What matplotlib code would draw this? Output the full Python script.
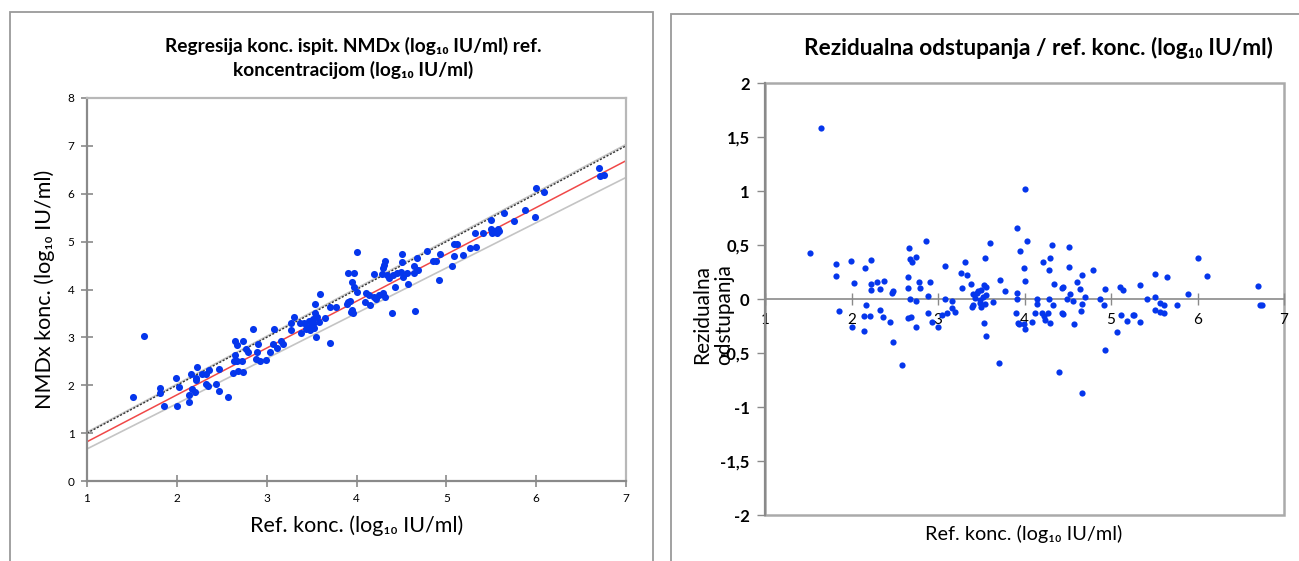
import matplotlib.pyplot as plt
from matplotlib.patches import Rectangle

plt.rcParams['font.family'] = ['Lato', 'DejaVu Sans']

# left chart: reference conc. vs NMDx conc. (log10 IU/ml)
ref_x = [1.51, 1.64, 1.81, 1.81, 1.86, 1.99, 2.02, 2.00, 2.16, 2.22, 2.21, 2.21,
         2.17, 2.20, 2.14, 2.14, 2.28, 2.33, 2.36, 2.33, 2.35, 2.44, 2.47, 2.47,
         2.57, 2.65, 2.74, 2.67, 2.65, 2.67, 2.64, 2.73, 2.63, 2.68, 2.74, 2.77,
         2.79, 2.85, 2.90, 2.89, 2.88, 2.93, 2.99, 3.04, 3.07, 3.11, 3.16, 3.18,
         3.08, 3.27, 3.30, 3.37, 3.27, 3.38, 3.45, 3.52, 3.48, 3.54, 3.54, 3.59,
         3.55, 3.70, 3.65, 3.70, 3.77, 3.56, 3.58, 3.52, 3.42, 3.47, 3.50, 3.44,
         3.53, 3.89, 3.93, 3.96, 3.95, 3.95, 4.00, 3.90, 3.97, 3.97, 4.01, 3.91,
         3.94, 4.11, 4.14, 4.19, 4.22, 4.25, 4.29, 4.32, 4.09, 4.15, 4.20, 4.28,
         4.30, 4.32, 4.31, 4.34, 4.36, 4.41, 4.45, 4.50, 4.56, 4.52, 4.51, 4.51,
         4.43, 4.40, 4.57, 4.64, 4.67, 4.64, 4.68, 4.65, 4.78, 4.85, 4.89, 4.93,
         4.92, 5.09, 5.12, 5.09, 5.18, 5.06, 5.26, 5.33, 5.32, 5.41, 5.50, 5.64,
         5.50, 5.53, 5.57, 5.59, 5.51, 5.56, 5.75, 5.88, 5.99, 6.00, 6.09, 6.70,
         6.71, 6.75]
nmdx_y = [1.75, 3.02, 1.95, 1.83, 1.57, 2.15, 1.97, 1.57, 2.23, 2.39, 2.16, 2.10,
          1.92, 1.86, 1.79, 1.66, 2.24, 2.23, 2.31, 2.02, 1.98, 2.03, 1.88, 2.33,
          1.75, 2.92, 2.92, 2.84, 2.63, 2.51, 2.51, 2.51, 2.26, 2.30, 2.28, 2.75,
          2.69, 3.17, 2.86, 2.70, 2.55, 2.51, 2.53, 2.69, 2.86, 2.77, 2.92, 2.86,
          3.17, 3.15, 3.42, 3.29, 3.29, 3.10, 3.22, 3.27, 3.15, 3.50, 3.70, 3.90,
          3.00, 2.88, 3.41, 3.64, 3.63, 3.43, 3.33, 3.38, 3.30, 3.35, 3.25, 3.18,
          3.20, 3.70, 3.77, 3.50, 3.57, 4.16, 4.78, 4.34, 4.34, 4.06, 3.95, 3.74,
          3.53, 3.92, 3.88, 3.85, 3.81, 3.88, 3.92, 3.85, 3.74, 3.67, 4.33, 4.32,
          4.44, 4.59, 4.51, 4.30, 4.23, 4.30, 4.34, 4.37, 4.34, 4.26, 4.74, 4.57,
          4.06, 3.50, 4.11, 4.49, 4.65, 4.34, 4.41, 3.56, 4.80, 4.60, 4.60, 4.75,
          4.20, 4.96, 4.96, 4.70, 4.72, 4.49, 4.86, 4.88, 5.19, 5.17, 5.45, 5.59,
          5.27, 5.22, 5.27, 5.23, 5.17, 5.19, 5.43, 5.66, 5.52, 6.11, 6.04, 6.53,
          6.38, 6.39]

# lines on the regression chart (x ends, y ends)
line_x = [1, 7]
identity_y = [1.0, 7.0]
upper_y = [1.02, 7.03]
fit_y = [0.82, 6.69]
lower_y = [0.67, 6.34]

# right chart: residuals vs reference conc.
res_x = [1.52, 1.65, 1.82, 1.82, 1.86, 1.99, 2.03, 2.01, 2.16, 2.23, 2.22, 2.22,
         2.29, 2.37, 2.33, 2.17, 2.14, 2.21, 2.14, 2.33, 2.36, 2.44, 2.47, 2.48,
         2.48, 2.58, 2.66, 2.68, 2.70, 2.75, 2.65, 2.65, 2.68, 2.74, 2.78, 2.79,
         2.86, 2.91, 2.89, 2.65, 2.69, 2.75, 2.88, 2.93, 3.00, 3.05, 3.10, 3.08,
         3.08, 3.16, 3.16, 3.20, 3.27, 3.31, 3.33, 3.28, 3.38, 3.41, 3.43, 3.39,
         3.46, 3.49, 3.50, 3.53, 3.55, 3.56, 3.54, 3.50, 3.45, 3.52, 3.48, 3.40,
         3.54, 3.60, 3.53, 3.55, 3.64, 3.70, 3.72, 3.78, 3.91, 3.95, 3.91, 3.91,
         3.90, 3.93, 4.01, 4.03, 3.99, 4.01, 3.94, 3.99, 4.00, 4.21, 4.32, 4.30,
         4.28, 4.51, 4.51, 4.14, 4.14, 4.12, 4.09, 4.20, 4.22, 4.24, 4.27, 4.30,
         4.28, 4.33, 4.34, 4.43, 4.45, 4.43, 4.44, 4.49, 4.53, 4.56, 4.57, 4.40,
         4.61, 4.64, 4.67, 4.70, 4.67, 4.65, 4.67, 4.79, 4.87, 4.93, 4.92, 4.93,
         5.07, 5.10, 5.14, 5.11, 5.19, 5.25, 5.27, 5.33, 5.34, 5.42, 5.51, 5.51,
         5.51, 5.57, 5.61, 5.57, 5.61, 5.65, 5.76, 5.89, 6.01, 6.11, 6.70, 6.72,
         6.75]
res_y = [0.43, 1.58, 0.32, 0.21, -0.11, 0.35, 0.15, -0.26, 0.29, 0.36, 0.14, 0.08,
         0.16, 0.17, 0.09, -0.06, -0.16, -0.16, -0.30, -0.10, -0.17, -0.21, 0.06, 0.07,
         -0.40, -0.61, 0.47, 0.37, 0.34, 0.39, 0.20, 0.10, 0.00, -0.02, 0.16, 0.10,
         0.54, 0.16, 0.03, -0.18, -0.17, -0.26, -0.13, -0.21, -0.26, -0.15, -0.13, 0.31,
         0.00, -0.02, -0.08, -0.12, 0.24, 0.34, 0.22, 0.10, 0.14, 0.05, 0.01, -0.07,
         0.07, -0.01, 0.08, 0.13, 0.04, 0.11, -0.05, -0.07, 0.06, 0.02, -0.04, -0.06,
         0.38, 0.52, -0.22, -0.34, -0.03, -0.59, 0.18, 0.07, 0.66, 0.44, 0.06, 0.00,
         -0.13, -0.22, 1.02, 0.54, 0.29, 0.17, -0.23, -0.23, -0.28, 0.34, 0.50, 0.38,
         0.27, 0.48, 0.30, 0.00, -0.05, -0.13, -0.21, -0.13, -0.16, -0.19, -0.13, -0.22,
         0.00, -0.06, 0.14, 0.10, 0.11, -0.13, -0.14, 0.00, 0.05, -0.02, -0.23, -0.68,
         0.16, 0.09, 0.22, 0.02, -0.05, -0.11, -0.87, 0.27, 0.00, 0.09, -0.06, -0.47,
         -0.31, 0.11, 0.08, -0.15, -0.20, -0.15, -0.15, 0.13, -0.21, 0.00, 0.23, 0.02,
         -0.10, -0.04, -0.06, -0.12, -0.13, 0.20, -0.06, 0.05, 0.38, 0.21, 0.12, -0.06,
         -0.06]

res_ticks = [-2, -1.5, -1, -0.5, 0, 0.5, 1, 1.5, 2]
res_tick_labels = ['-2', '-1,5', '-1', '-0,5', '0', '0,5', '1', '1,5', '2']

blue = '#0536ec'
dark_grey = '#8a8a8a'
light_grey = '#b8b8b8'

fig = plt.figure(figsize=(12.99, 5.61), dpi=100)

# panel frames
fig.add_artist(Rectangle((9.5 / 1299, -0.05), (653 - 9.5) / 1299, 1.05 - 12.5 / 561,
                         transform=fig.transFigure, fill=False, ec='#9a9a9a', lw=1.3))
fig.add_artist(Rectangle((670.5 / 1299, -0.05), 0.6, 1.05 - 13.5 / 561,
                         transform=fig.transFigure, fill=False, ec='#9a9a9a', lw=1.3))

# ---- left chart ----
ax1 = fig.add_axes([87 / 1299, 80 / 561, 539 / 1299, 383 / 561])
ax1.plot(line_x, upper_y, color='#c4c4c4', lw=1.2, zorder=2)
ax1.plot(line_x, identity_y, color='#333333', lw=1.0, ls=(0, (1.5, 1.2)), zorder=2)
ax1.plot(line_x, lower_y, color='#c4c4c4', lw=1.2, zorder=2)
ax1.plot(line_x, fit_y, color='#f04848', lw=1.1, zorder=2)
ax1.scatter(ref_x, nmdx_y, s=26, color=blue, zorder=3, linewidths=0)
ax1.set_xlim(1, 7)
ax1.set_ylim(0, 8)
ax1.set_xticks(range(1, 8))
ax1.set_yticks(range(0, 9))
ax1.tick_params(direction='inout', length=8, width=1.2, color=dark_grey,
                labelsize=8.5, pad=5)
for side in ['left', 'bottom']:
    ax1.spines[side].set_color(dark_grey)
    ax1.spines[side].set_linewidth(1.6)
for side in ['top', 'right']:
    ax1.spines[side].set_color(light_grey)
    ax1.spines[side].set_linewidth(1.6)
ax1.set_xlabel('Ref. konc. (log₁₀ IU/ml)', fontsize=15.5, labelpad=8)
ax1.set_ylabel('NMDx konc. (log₁₀ IU/ml)', fontsize=15.5, labelpad=9)
fig.text(353 / 1299, 1 - 58 / 561,
         'Regresija konc. ispit. NMDx (log₁₀ IU/ml) ref.\nkoncentracijom (log₁₀ IU/ml)',
         ha='center', va='center', fontsize=13.8, fontweight='bold',
         multialignment='center', linespacing=1.4)

# ---- right chart ----
ax2 = fig.add_axes([765 / 1299, 46 / 561, 519 / 1299, 432 / 561])
ax2.scatter(res_x, res_y, s=20, color=blue, zorder=3, linewidths=0)
ax2.set_xlim(1, 7)
ax2.set_ylim(-2, 2)
ax2.set_xticks(range(1, 8))
ax2.set_yticks(res_ticks)
ax2.set_yticklabels(res_tick_labels, fontweight='bold')
ax2.spines['bottom'].set_position(('data', 0))
ax2.spines['bottom'].set_color(dark_grey)
ax2.spines['bottom'].set_linewidth(1.2)
ax2.spines['left'].set_color(dark_grey)
ax2.spines['left'].set_linewidth(1.6)
for side in ['top', 'right']:
    ax2.spines[side].set_visible(False)
ax2.add_patch(Rectangle((0, 0), 1, 1, transform=ax2.transAxes, fill=False,
                        ec='#aaaaaa', lw=1.8, clip_on=False, zorder=1))
ax2.tick_params(axis='x', direction='inout', length=8, width=1.0, color=dark_grey,
                labelsize=11, pad=6)
ax2.tick_params(axis='y', direction='out', length=6, width=1.0, color=dark_grey,
                labelsize=12, pad=5)
fig.text(1024 / 1299, 1 - 534 / 561, 'Ref. konc. (log₁₀ IU/ml)',
         ha='center', va='center', fontsize=14.3)
fig.text(713 / 1299, 1 - 315 / 561, 'Rezidualna\nodstupanja', rotation=90,
         ha='center', va='center', fontsize=15, multialignment='center',
         linespacing=1.15)
fig.text(1038 / 1299, 1 - 48 / 561,
         'Rezidualna odstupanja / ref. konc. (log₁₀ IU/ml)',
         ha='center', va='center', fontsize=16.3, fontweight='bold')

fig.savefig('out.png', dpi=100)
